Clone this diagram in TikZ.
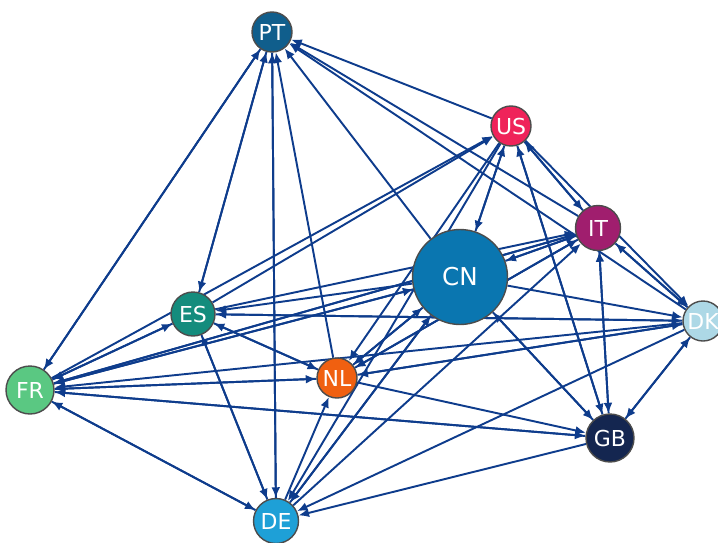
\documentclass[tikz,border=0pt]{standalone}
\usepackage{fontspec}
\setmainfont{DejaVu Sans}
\usetikzlibrary{arrows.meta,backgrounds}
\definecolor{edgeblue}{RGB}{14,60,140}
\definecolor{ptblue}{RGB}{16,94,140}
\definecolor{usred}{RGB}{239,35,90}
\definecolor{itpurple}{RGB}{160,30,110}
\definecolor{cnblue}{RGB}{10,118,176}
\definecolor{dkblue}{RGB}{173,216,230}
\definecolor{esteal}{RGB}{20,140,125}
\definecolor{nlorange}{RGB}{240,96,16}
\definecolor{frgreen}{RGB}{90,200,130}
\definecolor{gbnavy}{RGB}{20,38,80}
\definecolor{deblue}{RGB}{30,160,215}
\begin{document}
\begin{tikzpicture}[>={Latex[length=6pt,width=5pt]}]
        \useasboundingbox (0,0) rectangle (14.36,10.84);
        \tikzstyle{every node}=[draw=black!70, line width=0.8pt, shape=circle, inner sep=0pt, minimum size=0.8cm, text=white, font=\fontsize{12.5}{14}\selectfont];
        \tikzstyle{link}=[edgeblue, line width=1.1pt, ->];
        %\node (name) at (x,y) [fill=colour] {code};
        %\draw [link] (from) -- (to);
        \node[fill=ptblue] (PT) at (5.44,10.20) {PT};
        \node[fill=usred] (US) at (10.22,8.32) {US};
        \node[fill=itpurple, minimum size=0.9cm] (IT) at (11.96,6.28) {IT};
        \node[fill=cnblue, minimum size=1.9cm, font=\fontsize{14}{16}\selectfont] (CN) at (9.20,5.30) {CN};
        \node[fill=dkblue] (DK) at (14.06,4.42) {DK};
        \node[fill=esteal, minimum size=0.88cm] (ES) at (3.86,4.56) {ES};
        \node[fill=nlorange] (NL) at (6.74,3.28) {NL};
        \node[fill=frgreen, minimum size=0.96cm] (FR) at (0.60,3.04) {FR};
        \node[fill=gbnavy, minimum size=0.96cm] (GB) at (12.20,2.08) {GB};
        \node[fill=deblue, minimum size=0.9cm] (DE) at (5.52,0.42) {DE};
        \begin{pgfonlayer}{background}
        % both directions
        \draw[link] (PT)--(FR);
        \draw[link] (FR)--(PT);
        \draw[link] (PT)--(ES);
        \draw[link] (ES)--(PT);
        \draw[link] (PT)--(DE);
        \draw[link] (DE)--(PT);
        \draw[link] (CN)--(US);
        \draw[link] (US)--(CN);
        \draw[link] (US)--(IT);
        \draw[link] (IT)--(US);
        \draw[link] (US)--(GB);
        \draw[link] (GB)--(US);
        \draw[link] (CN)--(IT);
        \draw[link] (IT)--(CN);
        \draw[link] (IT)--(DK);
        \draw[link] (DK)--(IT);
        \draw[link] (IT)--(GB);
        \draw[link] (GB)--(IT);
        \draw[link] (CN)--(NL);
        \draw[link] (NL)--(CN);
        \draw[link] (CN)--(DE);
        \draw[link] (DE)--(CN);
        \draw[link] (CN)--(GB);
        \draw[link] (GB)--(CN);
        \draw[link] (GB)--(DK);
        \draw[link] (DK)--(GB);
        \draw[link] (FR)--(NL);
        \draw[link] (NL)--(FR);
        \draw[link] (ES)--(NL);
        \draw[link] (NL)--(ES);
        \draw[link] (FR)--(ES);
        \draw[link] (ES)--(FR);
        \draw[link] (ES)--(DE);
        \draw[link] (DE)--(ES);
        \draw[link] (FR)--(GB);
        \draw[link] (GB)--(FR);
        \draw[link] (FR)--(DE);
        \draw[link] (DE)--(FR);
        % one direction
        \draw[link] (NL)--(PT);
        \draw[link] (CN)--(PT);
        \draw[link] (US)--(PT);
        \draw[link] (IT)--(PT);
        \draw[link] (DK)--(PT);
        \draw[link] (ES)--(US);
        \draw[link] (FR)--(US);
        \draw[link] (US)--(DK);
        \draw[link] (US)--(NL);
        \draw[link] (US)--(DE);
        \draw[link] (ES)--(IT);
        \draw[link] (FR)--(IT);
        \draw[link] (NL)--(IT);
        \draw[link] (DE)--(IT);
        \draw[link] (IT)--(NL);
        \draw[link] (IT)--(FR);
        \draw[link] (CN)--(ES);
        \draw[link] (CN)--(FR);
        \draw[link] (CN)--(DK);
        \draw[link] (FR)--(CN);
        \draw[link] (DK)--(ES);
        \draw[link] (DK)--(FR);
        \draw[link] (DK)--(NL);
        \draw[link] (DK)--(DE);
        \draw[link] (NL)--(DK);
        \draw[link] (ES)--(DK);
        \draw[link] (DE)--(NL);
        \draw[link] (NL)--(GB);
        \draw[link] (GB)--(DE);
        \end{pgfonlayer}
        \end{tikzpicture}
\end{document}
